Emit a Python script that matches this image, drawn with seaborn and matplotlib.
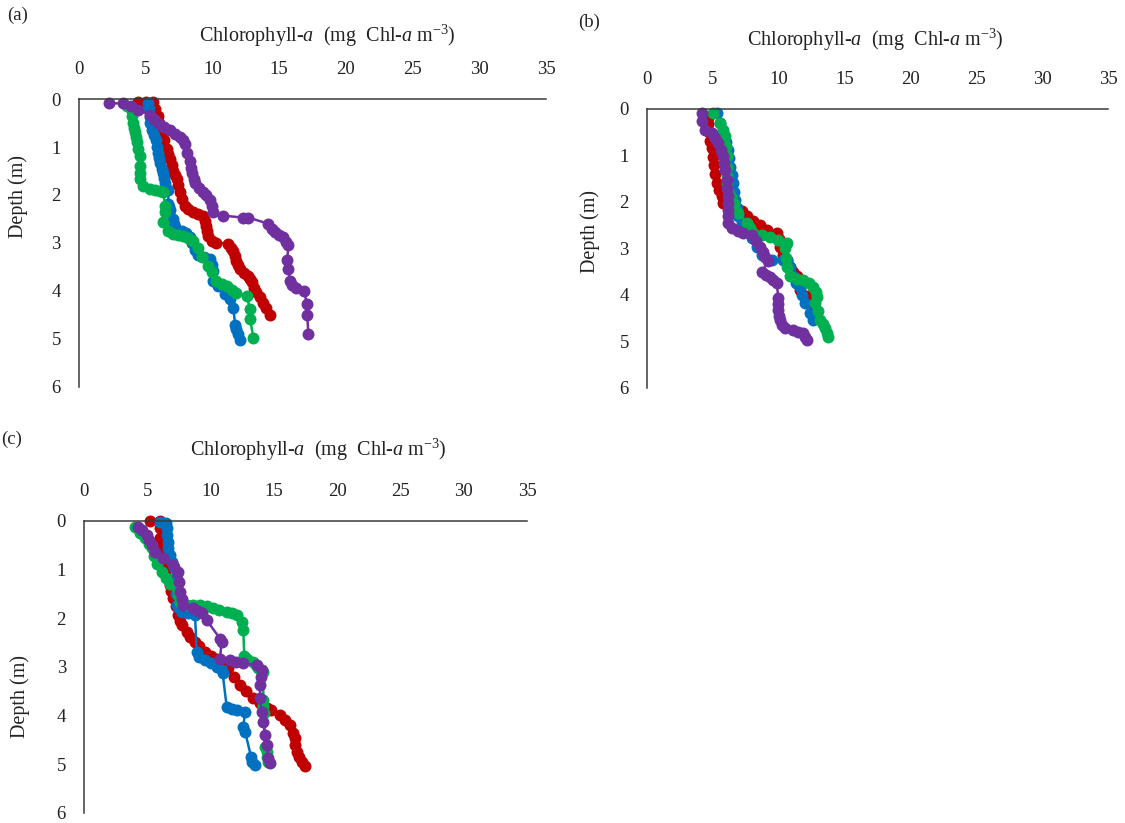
import matplotlib
matplotlib.use("Agg")
import matplotlib.pyplot as plt
import seaborn as sns
import pandas as pd

# ---------------- profile data: chlorophyll-a (mg m-3) vs depth (m) ----------------
# Panel (a)
a_blue_chl = [5.2, 5.25, 5.3, 5.35, 5.45, 5.6, 5.8, 5.85, 5.95, 6.0, 6.07, 6.2, 6.3, 6.35, 6.45, 6.7,
              6.7, 6.75, 6.82, 7.07, 7.1, 7.2, 7.7, 8.0, 8.32, 8.5, 8.7, 8.95, 9.4, 9.82, 10.0, 10.07,
              10.07, 10.45, 10.95, 11.3, 11.57, 11.7, 11.8, 11.95, 12.07]
a_blue_dep = [0.09, 0.2, 0.37, 0.5, 0.65, 0.75, 0.85, 1.0, 1.13, 1.23, 1.33, 1.45, 1.55, 1.65, 1.76, 1.9,
              2.18, 2.25, 2.32, 2.49, 2.6, 2.67, 2.74, 2.8, 2.88, 3.0, 3.15, 3.26, 3.3, 3.33, 3.45, 3.58,
              3.79, 3.9, 4.06, 4.17, 4.35, 4.7, 4.8, 4.9, 5.03]

a_red_chl = [4.45, 5.0, 5.55, 5.7, 5.9, 6.0, 6.2, 6.4, 6.57, 6.7, 6.82, 6.95, 7.07, 7.2, 7.32, 7.45,
             7.57, 7.75, 7.95, 8.2, 8.57, 8.95, 9.32, 9.42, 9.52, 9.6, 9.7, 10.0, 10.3, 11.2, 11.4,
             11.57, 11.7, 11.8, 11.9, 12.07, 12.4, 12.7, 12.8, 12.95, 13.1, 13.3, 13.55, 13.8, 14.05, 14.3]
a_red_dep = [0.07, 0.07, 0.07, 0.2, 0.35, 0.5, 0.69, 0.85, 1.04, 1.15, 1.25, 1.37, 1.49, 1.58, 1.67, 1.8,
             1.94, 2.08, 2.22, 2.3, 2.35, 2.4, 2.43, 2.54, 2.64, 2.75, 2.85, 2.95, 2.99, 3.02, 3.1,
             3.16, 3.27, 3.37, 3.45, 3.54, 3.62, 3.68, 3.75, 3.82, 3.93, 4.03, 4.13, 4.24, 4.36, 4.49]

a_green_chl = [3.57, 3.95, 4.0, 4.07, 4.1, 4.2, 4.25, 4.32, 4.45, 4.57, 4.57, 4.57, 4.57, 4.82, 5.32, 5.7,
               6.07, 6.32, 6.45, 6.45, 6.32, 6.7, 7.07, 7.45, 7.82, 8.2, 8.57, 8.9, 9.2, 9.7, 9.95, 10.3,
               10.7, 11.07, 11.45, 11.8, 12.57, 12.82, 12.82, 13.07]
a_green_dep = [0.14, 0.24, 0.35, 0.49, 0.6, 0.69, 0.8, 0.9, 1.05, 1.18, 1.39, 1.55, 1.67, 1.81, 1.88, 1.9,
               1.92, 1.94, 2.22, 2.36, 2.57, 2.74, 2.81, 2.83, 2.85, 2.9, 2.95, 3.1, 3.3, 3.47, 3.6, 3.79,
               3.85, 3.9, 3.97, 4.04, 4.1, 4.38, 4.58, 4.97]

a_purple_chl = [2.27, 3.3, 3.9, 4.45, 5.3, 5.6, 5.95, 6.4, 6.8, 7.2, 7.57, 7.8, 7.95, 8.1, 8.3, 8.4, 8.45,
                8.6, 8.7, 9.0, 9.3, 9.55, 9.8, 9.95, 10.07, 10.8, 12.3, 12.7, 14.2, 14.5, 14.7, 15.0, 15.3,
                15.5, 15.7, 15.6, 15.7, 15.8, 16.0, 16.3, 16.9, 17.07, 17.1, 17.2]
a_purple_dep = [0.09, 0.09, 0.15, 0.23, 0.33, 0.42, 0.51, 0.58, 0.65, 0.72, 0.79, 0.86, 0.93, 1.13, 1.3, 1.43, 1.55,
                1.66, 1.76, 1.85, 1.93, 2.01, 2.1, 2.23, 2.36, 2.43, 2.47, 2.47, 2.6, 2.7, 2.78, 2.83, 2.88,
                2.97, 3.05, 3.36, 3.54, 3.8, 3.88, 3.94, 4.01, 4.28, 4.5, 4.9]

# Panel (b)
b_blue_chl = [5.3, 5.55, 5.8, 6.0, 6.17, 6.25, 6.3, 6.45, 6.55, 6.6, 6.68, 6.8, 6.93, 7.2, 7.57, 7.95,
              8.33, 8.7, 9.47, 10.35, 10.6, 10.85, 11.1, 11.3, 11.6, 11.8, 12.0, 12.38, 12.63]
b_blue_dep = [0.09, 0.3, 0.52, 0.7, 0.88, 1.05, 1.24, 1.42, 1.6, 1.78, 1.95, 2.13, 2.31, 2.45, 2.6, 2.78,
              2.96, 3.14, 3.25, 3.25, 3.25, 3.4, 3.6, 3.75, 3.82, 4.0, 4.18, 4.39, 4.53]

b_red_chl = [4.6, 4.66, 4.7, 4.78, 4.9, 5.03, 5.1, 5.16, 5.35, 5.5, 5.67, 5.8, 6.3, 6.8, 7.2, 7.6, 8.07,
             8.6, 9.1, 9.85, 10.0, 10.1, 10.35, 10.6, 10.86, 11.1, 11.37, 11.5, 11.6, 12.13, 12.5, 12.6]
b_red_dep = [0.2, 0.32, 0.5, 0.68, 0.85, 1.04, 1.2, 1.4, 1.6, 1.75, 1.88, 2.02, 2.08, 2.13, 2.2, 2.3, 2.41,
             2.5, 2.6, 2.67, 2.8, 2.96, 3.14, 3.25, 3.39, 3.5, 3.6, 3.75, 3.89, 4.03, 4.18, 4.32]

b_green_chl = [5.03, 5.54, 5.75, 5.92, 6.0, 6.05, 6.05, 6.05, 6.1, 6.17, 6.4, 6.6, 6.93, 7.57, 7.8, 8.07,
               8.7, 9.34, 9.97, 10.6, 10.5, 10.55, 10.6, 10.86, 11.4, 11.87, 12.3, 12.63, 12.8, 12.89,
               12.76, 12.95, 13.14, 13.35, 13.5, 13.65, 13.77]
b_green_dep = [0.09, 0.3, 0.45, 0.59, 0.8, 1.02, 1.25, 1.45, 1.6, 1.74, 1.9, 2.05, 2.24, 2.45, 2.57, 2.67,
               2.72, 2.76, 2.82, 2.88, 3.0, 3.2, 3.39, 3.6, 3.65, 3.68, 3.75, 3.82, 3.93, 4.04,
               4.18, 4.35, 4.54, 4.63, 4.72, 4.82, 4.9]

b_purple_chl = [4.15, 4.2, 4.4, 4.9, 5.15, 5.4, 5.6, 5.8, 5.85, 5.92, 6.05, 6.1, 6.17, 6.17, 6.17, 6.17,
                6.17, 6.43, 6.9, 7.3, 7.95, 8.3, 8.58, 8.8, 8.96, 9.2, 8.7, 9.0, 9.34, 9.6, 9.85, 9.97,
                9.97, 9.97, 10.0, 10.1, 10.25, 10.48, 11.1, 11.5, 11.87, 12.0, 12.13]
b_purple_dep = [0.09, 0.25, 0.45, 0.52, 0.63, 0.74, 0.88, 1.02, 1.16, 1.31, 1.52, 1.7, 1.88, 2.02, 2.17, 2.3,
                2.45, 2.56, 2.62, 2.67, 2.7, 2.83, 2.96, 3.07, 3.18, 3.28, 3.5, 3.56, 3.61, 3.68, 3.75, 4.07,
                4.2, 4.32, 4.45, 4.54, 4.64, 4.72, 4.75, 4.79, 4.82, 4.9, 4.97]

# Panel (c)
c_blue_chl = [6.0, 6.5, 6.55, 6.53, 6.6, 6.66, 6.8, 6.93, 7.1, 7.32, 7.32, 7.32, 7.3, 7.32, 7.5, 7.72,
              8.2, 8.77, 8.9, 9.1, 9.56, 10.0, 10.5, 10.87, 10.95, 11.27, 11.7, 12.06, 12.72, 12.58,
              12.72, 13.2, 13.3, 13.5]
c_blue_dep = [0.02, 0.05, 0.15, 0.29, 0.43, 0.57, 0.7, 0.84, 0.95, 1.05, 1.2, 1.32, 1.5, 1.73, 1.8, 1.87,
              1.9, 1.94, 2.69, 2.8, 2.86, 2.93, 3.0, 3.07, 3.13, 3.82, 3.87, 3.89, 3.92, 4.23,
              4.33, 4.85, 4.95, 5.02]

c_red_chl = [5.2, 6.0, 6.0, 6.0, 6.1, 6.2, 6.3, 6.4, 6.6, 6.8, 6.9, 7.05, 7.25, 7.45, 7.55, 7.7, 8.1,
             8.4, 8.77, 9.1, 9.56, 10.0, 10.48, 10.9, 11.4, 11.85, 12.32, 12.8, 13.37, 13.9, 14.43,
             14.8, 15.48, 15.9, 16.27, 16.5, 16.67, 16.7, 16.8, 17.0, 17.2, 17.45]
c_red_dep = [0.0, 0.0, 0.15, 0.36, 0.55, 0.75, 0.9, 1.05, 1.2, 1.32, 1.45, 1.59, 1.75, 1.94, 2.05, 2.14, 2.28,
             2.38, 2.48, 2.58, 2.69, 2.77, 2.83, 2.93, 3.03, 3.2, 3.37, 3.5, 3.65, 3.75, 3.85,
             3.89, 3.99, 4.1, 4.2, 4.35, 4.47, 4.6, 4.74, 4.85, 4.95, 5.03]

c_green_chl = [4.03, 4.4, 4.82, 5.1, 5.35, 5.55, 5.74, 6.14, 6.5, 6.8, 7.32, 7.45, 7.58, 8.1, 8.6, 9.16,
               9.7, 10.2, 10.7, 11.27, 11.7, 12.06, 12.45, 12.58, 12.66, 12.85, 13.37, 13.6, 13.77,
               14.16, 14.16, 14.16, 14.2, 14.3, 14.43, 14.45, 14.5]
c_green_dep = [0.12, 0.25, 0.36, 0.47, 0.57, 0.72, 0.88, 1.05, 1.18, 1.29, 1.39, 1.52, 1.66, 1.73, 1.73, 1.73,
               1.76, 1.8, 1.83, 1.87, 1.9, 1.94, 2.07, 2.24, 2.78, 2.83, 2.9, 2.96, 3.03,
               3.1, 3.68, 3.8, 3.95, 4.64, 4.74, 4.85, 4.95]

c_purple_chl = [4.29, 4.6, 4.95, 5.15, 5.35, 5.61, 6.27, 7.05, 7.45, 7.5, 7.58, 7.7, 7.85, 8.63, 9.0, 9.3,
                9.69, 10.74, 10.87, 10.74, 11.53, 12.0, 12.58, 13.64, 14.03, 13.95, 13.9, 13.9, 14.03,
                14.16, 14.3, 14.43, 14.56, 14.7]
c_purple_dep = [0.12, 0.2, 0.29, 0.4, 0.5, 0.64, 0.77, 0.91, 1.05, 1.25, 1.46, 1.6, 1.73, 1.8, 1.85, 1.9,
                2.04, 2.42, 2.48, 2.83, 2.86, 2.9, 2.93, 2.96, 3.07, 3.2, 3.37, 3.65, 3.92,
                4.13, 4.4, 4.6, 4.88, 4.98]

x_ticks = [0, 5, 10, 15, 20, 25, 30, 35]
y_ticks = [0, 1, 2, 3, 4, 5, 6]
panel_labels = ["(a)", "(b)", "(c)"]
x_title = r"Chlorophyll-$\it{a}$  (mg  Chl-$\it{a}$ m$^{\mathregular{-3}}$)"
y_title = "Depth (m)"

colors = {"red": "#C00000", "blue": "#0070C0", "green": "#00B050", "purple": "#7030A0"}
draw_order = ["red", "blue", "green", "purple"]

panels = {
    "(a)": {"blue": (a_blue_chl, a_blue_dep), "red": (a_red_chl, a_red_dep),
            "green": (a_green_chl, a_green_dep), "purple": (a_purple_chl, a_purple_dep)},
    "(b)": {"blue": (b_blue_chl, b_blue_dep), "red": (b_red_chl, b_red_dep),
            "green": (b_green_chl, b_green_dep), "purple": (b_purple_chl, b_purple_dep)},
    "(c)": {"blue": (c_blue_chl, c_blue_dep), "red": (c_red_chl, c_red_dep),
            "green": (c_green_chl, c_green_dep), "purple": (c_purple_chl, c_purple_dep)},
}

# ---------------- style ----------------
sns.set_theme(style="white")
plt.rcParams["font.family"] = ["Liberation Serif", "DejaVu Serif"]
plt.rcParams["mathtext.fontset"] = "custom"
plt.rcParams["mathtext.rm"] = "Liberation Serif"
plt.rcParams["mathtext.it"] = "Liberation Serif:italic"
plt.rcParams["mathtext.default"] = "regular"

fig = plt.figure(figsize=(11.25, 8.23), dpi=100)

# axes rectangles [left, bottom, width, height] in figure fraction
rects = {
    "(a)": [0.0702, 0.5298, 0.4151, 0.3499],
    "(b)": [0.5751, 0.5286, 0.4098, 0.3390],
    "(c)": [0.0747, 0.0122, 0.3938, 0.3551],
}
# (x, y) in axes fraction for the x title, y title and panel letter
title_pos = {"(a)": (0.531, 1.219), "(b)": (0.495, 1.247), "(c)": (0.528, 1.242)}
ylab_pos = {"(a)": (-0.13, 0.66), "(b)": (-0.124, 0.56), "(c)": (-0.145, 0.40)}
letter_pos = {"(a)": (-0.131, 1.29), "(b)": (-0.125, 1.31), "(c)": (-0.163, 1.28)}

spine_color = "#3a3a3a"

for key in panel_labels:
    ax = fig.add_axes(rects[key])
    rows = []
    for name in draw_order:
        chl, dep = panels[key][name]
        for i, (c, d) in enumerate(zip(chl, dep)):
            rows.append({"series": name, "chl": c, "depth": d, "idx": i})
    df = pd.DataFrame(rows)

    sns.lineplot(data=df, x="chl", y="depth", hue="series", hue_order=draw_order,
                 palette=colors, sort=False, estimator=None, marker="o", markersize=8.6,
                 markeredgewidth=0, linewidth=1.8, legend=False, clip_on=False, ax=ax)

    ax.set_xlim(0, 35)
    ax.set_ylim(6, 0)
    ax.set_xticks(x_ticks)
    ax.set_yticks(y_ticks)
    ax.xaxis.tick_top()
    ax.xaxis.set_label_position("top")
    ax.tick_params(axis="x", length=0, pad=15, labelsize=13.5, colors="#222222")
    ax.tick_params(axis="y", length=0, pad=13, labelsize=13.5, colors="#222222")

    ax.set_xlabel(x_title, fontsize=14.5, color="#222222")
    ax.xaxis.label.set_verticalalignment("center")
    ax.xaxis.set_label_coords(*title_pos[key])
    ax.set_ylabel(y_title, fontsize=14.5, color="#222222")
    ax.yaxis.label.set_verticalalignment("center")
    ax.yaxis.set_label_coords(*ylab_pos[key])

    for side in ("right", "bottom"):
        ax.spines[side].set_visible(False)
    for side in ("left", "top"):
        ax.spines[side].set_visible(True)
        ax.spines[side].set_color(spine_color)
        ax.spines[side].set_linewidth(1.1)
    ax.grid(False)
    ax.set_facecolor("white")

    ax.text(*letter_pos[key], key, transform=ax.transAxes, fontsize=13.5,
            ha="center", va="center", color="#222222")

fig.savefig("out.png", dpi=100, facecolor="white")
